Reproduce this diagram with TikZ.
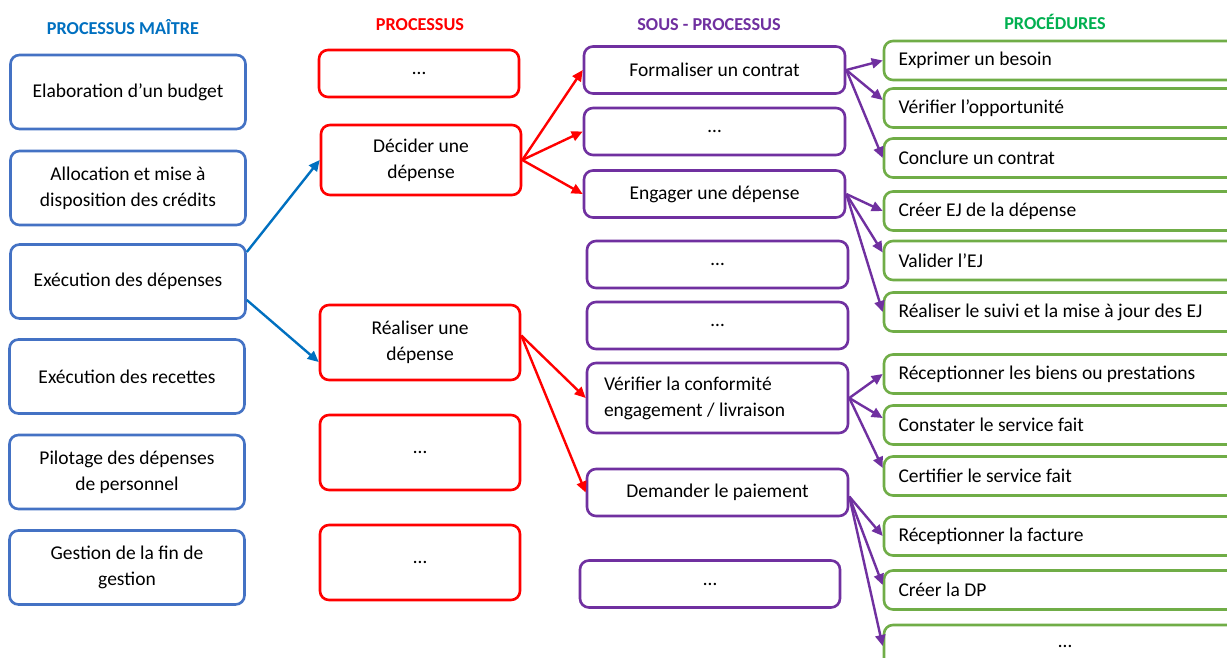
\documentclass[tikz,border=0pt]{standalone}
\usepackage{fontspec}
\setmainfont{Carlito}
\usepackage{tikz}
\usetikzlibrary{arrows.meta}

\definecolor{bleuboite}{HTML}{4472C4}
\definecolor{bleufleche}{HTML}{0070C0}
\definecolor{rouge}{HTML}{FF0000}
\definecolor{violet}{HTML}{7030A0}
\definecolor{vertboite}{HTML}{70AD47}
\definecolor{verttitre}{HTML}{00B050}

\tikzset{
 boite/.style={draw, rounded corners=9pt, line width=2.6pt, align=center, inner sep=0pt,
 font=\fontsize{19.5}{26}\selectfont},
 maitre/.style={boite, draw=bleuboite, minimum width=235pt, minimum height=74pt},
 processus/.style={boite, draw=rouge, minimum width=200pt, minimum height=75pt},
 sousproc/.style={boite, draw=violet, minimum width=261pt, minimum height=47pt},
 procedure/.style={boite, draw=vertboite, minimum width=362pt, minimum height=39pt,
 text width=333pt, align=flush left},
 titre/.style={font=\fontsize{18.2}{21}\selectfont\bfseries},
 fleche/.style={line width=2.4pt, -{Triangle[length=11pt,width=10pt]}}
}

\begin{document}
\begin{tikzpicture}[x=1pt, y=-1pt]
 \clip (0,0) rectangle (1227,658);
 \fill[white] (0,0) rectangle (1227,658);

 % Titles
 \node[titre, bleufleche] (t1) at (123,27) {PROCESSUS MAÎTRE};
 \node[titre, rouge] (t2) at (420,25) {PROCESSUS};
 \node[titre, violet] (t3) at (709,25) {SOUS - PROCESSUS};
 \node[titre, verttitre] (t4) at (1055,22) {PROCÉDURES};

 % Processus maitre
 \node[maitre] (budget) at (128,92) {Elaboration d’un budget};
 \node[maitre] (credits) at (128,188) {Allocation et mise à\\disposition des crédits};
 \node[maitre] (depenses) at (128,281.5) {Exécution des dépenses};
 \node[maitre] (recettes) at (127,376.5) {Exécution des recettes};
 \node[maitre] (pilotage) at (127,472) {Pilotage des dépenses\\de personnel};
 \node[maitre] (fingestion) at (127,567.5) {Gestion de la fin de\\gestion};

 % Processus
 \node[processus, minimum height=47pt] (p1) at (419,73.5) {\ldots};
 \node[processus, minimum height=70pt] (decider) at (421,160) {Décider une\\dépense};
 \node[processus] (realiser) at (420,342.5) {Réaliser une\\dépense};
 \node[processus] (p4) at (420,452.5) {\ldots};
 \node[processus] (p5) at (420,562.5) {\ldots};

 % Sous-processus
 \node[sousproc] (formaliser) at (714.5,70) {Formaliser un contrat};
 \node[sousproc] (s2) at (714.5,131.5) {\ldots};
 \node[sousproc] (engager) at (714.5,194) {Engager une dépense};
 \node[sousproc] (s4) at (717.5,264.5) {\ldots};
 \node[sousproc] (s5) at (717.5,325.5) {\ldots};
 \node[sousproc, minimum height=70pt, text width=227pt, align=flush left] (verifier) at (717.5,398)
 {Vérifier la conformité\\engagement / livraison};
 \node[sousproc] (demander) at (717.5,492.5) {Demander le paiement};
 \node[sousproc, minimum width=260pt] (s8) at (710,584) {\ldots};

 % Procedures
 \node[procedure] (besoin) at (1065,60.5) {Exprimer un besoin};
 \node[procedure] (opportunite) at (1065,108) {Vérifier l’opportunité};
 \node[procedure] (conclure) at (1065,158) {Conclure un contrat};
 \node[procedure] (creerej) at (1065,211) {Créer EJ de la dépense};
 \node[procedure] (validerej) at (1065,260.5) {Valider l’EJ};
 \node[procedure] (suiviej) at (1065,312) {Réaliser le suivi et la mise à jour des EJ};
 \node[procedure] (biens) at (1065,374) {Réceptionner les biens ou prestations};
 \node[procedure] (constater) at (1065,425) {Constater le service fait};
 \node[procedure] (certifier) at (1065,476) {Certifier le service fait};
 \node[procedure] (facture) at (1065,536) {Réceptionner la facture};
 \node[procedure] (creerdp) at (1065,590) {Créer la DP};
 \node[procedure, minimum height=42pt, align=center] (q12) at (1065,646) {\ldots};

 % Blue arrows
 \draw[fleche, bleufleche] ([yshift=29.5pt]depenses.east) -- (decider.west);
 \draw[fleche, bleufleche] ([yshift=-18.5pt]depenses.east) -- ([yshift=-19.5pt]realiser.west);

 % Red arrows
 \foreach \cible in {formaliser, s2, engager}
 \draw[fleche, rouge] (decider.east) -- (\cible.west);
 \foreach \cible in {verifier, demander}
 \draw[fleche, rouge] ([yshift=7pt]realiser.east) -- (\cible.west);

 % Purple arrows
 \draw[fleche, violet] (formaliser.east) -- (besoin.west);
 \draw[fleche, violet] (formaliser.east) -- ([yshift=8pt]opportunite.west);
 \draw[fleche, violet] (formaliser.east) -- (conclure.west);
 \draw[fleche, violet] (engager.east) -- (creerej.west);
 \draw[fleche, violet] (engager.east) -- ([yshift=8pt]validerej.west);
 \draw[fleche, violet] (engager.east) -- (suiviej.west);
 \draw[fleche, violet] (verifier.east) -- (biens.west);
 \draw[fleche, violet] (verifier.east) -- ([yshift=7pt]constater.west);
 \draw[fleche, violet] (verifier.east) -- ([yshift=8pt]certifier.west);
 \draw[fleche, violet] ([yshift=-4pt]demander.east) -- (facture.west);
 \draw[fleche, violet] ([yshift=-4pt]demander.east) -- ([yshift=5pt]creerdp.west);
 \draw[fleche, violet] ([yshift=-4pt]demander.east) -- (q12.west);
\end{tikzpicture}
\end{document}
